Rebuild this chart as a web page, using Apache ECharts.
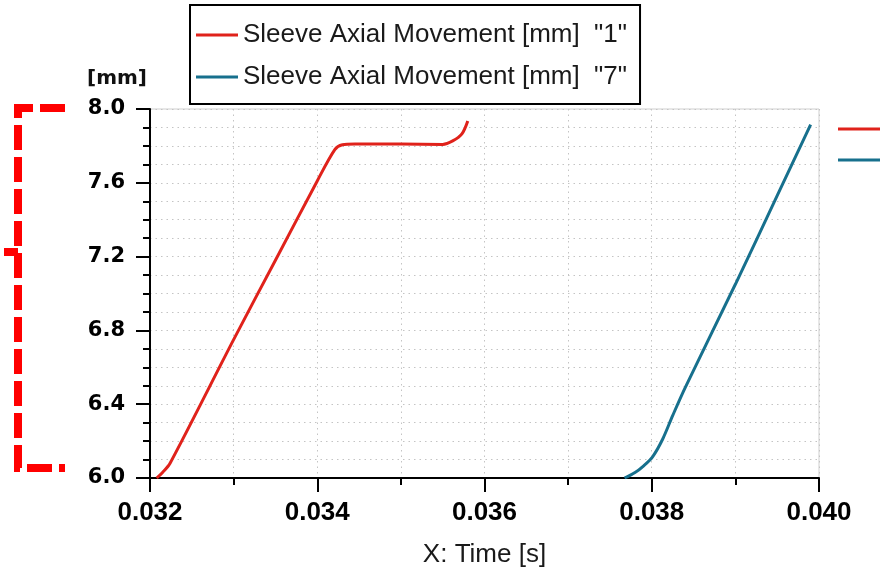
<!DOCTYPE html>
<html>
<head>
<meta charset="utf-8">
<script src="https://cdn.jsdelivr.net/npm/echarts@6/dist/echarts.min.js"></script>
<style>
  html, body { margin: 0; padding: 0; background: #fff; }
  #chart { width: 892px; height: 571px; }
</style>
</head>
<body>
<div id="chart"></div>
<script>
// time [s] / movement [mm]
var sleeve1Time = [0.03208, 0.03215, 0.03224, 0.0330, 0.0335, 0.0340, 0.03421, 0.03430, 0.03445, 0.0350, 0.0355, 0.03562, 0.03573, 0.03580];
var sleeve1Mm   = [6.0,     6.03,    6.08,    6.75,   7.18,   7.61,   7.78,    7.806,   7.81,    7.81,   7.808,  7.827,   7.865,   7.935];
var sleeve7Time = [0.037675, 0.0378, 0.0379, 0.03801, 0.03813, 0.03825, 0.0384, 0.0390, 0.0395, 0.0399];
var sleeve7Mm   = [6.0,      6.03,   6.065,  6.115,   6.21,    6.338,   6.49,   7.05,   7.53,   7.915];
var seriesNames = ['Sleeve Axial Movement [mm]  "1"', 'Sleeve Axial Movement [mm]  "7"'];
var seriesColors = ['#e0221b', '#17708d'];

function pairs(xs, ys) {
  var out = [];
  for (var i = 0; i < xs.length; i++) out.push([xs[i], ys[i]]);
  return out;
}

var chart = echarts.init(document.getElementById('chart'));
var sans = '"Liberation Sans", Arial, sans-serif';
var deja = '"DejaVu Sans", Verdana, sans-serif';
var dots = { color: '#c4c4c4', width: 1, type: [1.5, 4] };

chart.setOption({
  animation: false,
  textStyle: { fontFamily: sans },
  grid: {
    left: 150, right: 73, top: 109, bottom: 93,
    outerBoundsMode: 'none',
    show: true, borderColor: '#cfcfcf', borderWidth: 1
  },
  legend: {
    orient: 'vertical',
    left: 190, top: 5,
    padding: [17, 13, 14, 6],
    borderColor: '#000', borderWidth: 2,
    icon: 'rect',
    itemWidth: 42, itemHeight: 3, itemGap: 16,
    textStyle: { fontSize: 26, color: '#1a1a1a', fontFamily: sans },
    data: seriesNames
  },
  xAxis: {
    type: 'value',
    min: 0.032, max: 0.040, interval: 0.002,
    name: 'X: Time [s]', nameLocation: 'middle', nameGap: 64,
    nameTextStyle: { fontSize: 26, color: '#1a1a1a', fontFamily: sans },
    axisLine: { lineStyle: { color: '#000', width: 2 } },
    axisTick: { length: 14, lineStyle: { color: '#000', width: 2 } },
    minorTick: { show: true, splitNumber: 2, length: 7, lineStyle: { color: '#000', width: 2 } },
    axisLabel: { fontSize: 26, fontWeight: 'bold', color: '#000', margin: 22, fontFamily: sans,
      formatter: function (v) { return v.toFixed(3); } },
    splitLine: { show: true, lineStyle: dots },
    minorSplitLine: { show: true, lineStyle: dots }
  },
  yAxis: {
    type: 'value',
    min: 6.0, max: 8.0, interval: 0.4,
    name: '[mm]', nameLocation: 'end', nameGap: 20,
    nameTextStyle: { fontSize: 20, fontWeight: 'bold', color: '#111', align: 'right',
      fontFamily: deja, padding: [0, 3, 0, 0] },
    axisLine: { lineStyle: { color: '#000', width: 2 } },
    axisTick: { length: 14, lineStyle: { color: '#000', width: 2 } },
    minorTick: { show: true, splitNumber: 4, length: 7, lineStyle: { color: '#000', width: 2 } },
    axisLabel: { fontSize: 21, fontWeight: 'bold', color: '#000', margin: 25, fontFamily: deja,
      formatter: function (v) { return v.toFixed(1); } },
    splitLine: { show: true, lineStyle: dots },
    minorSplitLine: { show: true, lineStyle: dots }
  },
  series: [
    {
      name: seriesNames[0], type: 'line', smooth: 0.3, symbol: 'none',
      color: seriesColors[0], lineStyle: { width: 3 },
      data: pairs(sleeve1Time, sleeve1Mm)
    },
    {
      name: seriesNames[1], type: 'line', smooth: 0.3, symbol: 'none',
      color: seriesColors[1], lineStyle: { width: 3 },
      data: pairs(sleeve7Time, sleeve7Mm)
    }
  ],
  graphic: [
    // red dashed bracket at the left
    { type: 'polyline', shape: { points: [[65, 108], [18, 108], [18, 468], [65, 468]] },
      style: { stroke: '#ff0000', lineWidth: 8, lineDash: [25, 7], fill: null } },
    { type: 'line', shape: { x1: 4, y1: 252, x2: 18, y2: 252 },
      style: { stroke: '#ff0000', lineWidth: 8 } },
    // cut-off legend markers on the right
    { type: 'line', shape: { x1: 838, y1: 129, x2: 880, y2: 129 },
      style: { stroke: seriesColors[0], lineWidth: 3 } },
    { type: 'line', shape: { x1: 838, y1: 160, x2: 880, y2: 160 },
      style: { stroke: seriesColors[1], lineWidth: 3 } }
  ]
});
</script>
</body>
</html>
